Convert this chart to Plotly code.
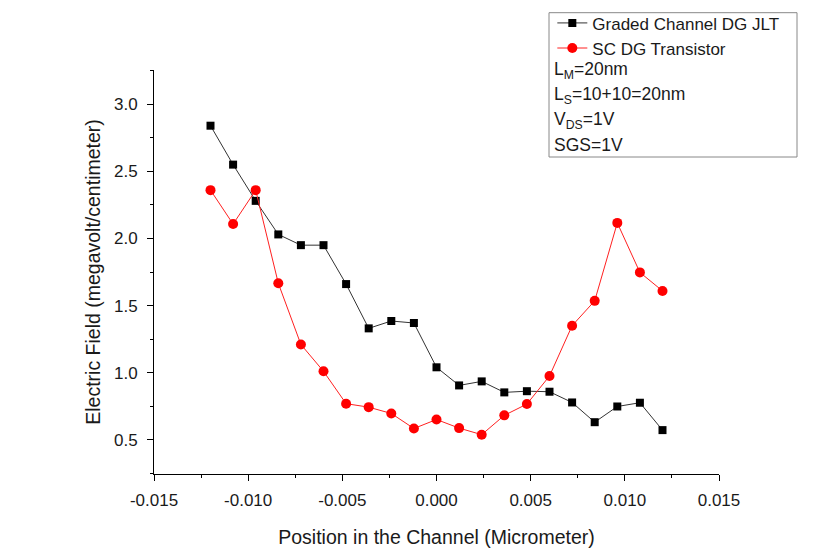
import plotly.graph_objects as go

# ---- data ----
position = [-0.012, -0.0108, -0.0096, -0.0084, -0.0072, -0.006, -0.0048, -0.0036, -0.0024,
            -0.0012, 0.0, 0.0012, 0.0024, 0.0036, 0.0048, 0.006, 0.0072, 0.0084, 0.0096,
            0.0108, 0.012]
graded_jlt = [2.84, 2.55, 2.28, 2.03, 1.95, 1.95, 1.66, 1.33, 1.385, 1.37, 1.04, 0.905,
              0.935, 0.853, 0.862, 0.858, 0.778, 0.631, 0.748, 0.776, 0.572]
sc_dg = [2.36, 2.107, 2.36, 1.666, 1.21, 1.01, 0.769, 0.743, 0.696, 0.584, 0.651, 0.587,
         0.538, 0.682, 0.766, 0.975, 1.35, 1.535, 2.116, 1.747, 1.609]

x_tickvals = [-0.015, -0.010, -0.005, 0.0, 0.005, 0.010, 0.015]
x_ticktext = ["-0.015", "-0.010", "-0.005", "0.000", "0.005", "0.010", "0.015"]
y_tickvals = [0.5, 1.0, 1.5, 2.0, 2.5, 3.0]
y_ticktext = ["0.5", "1.0", "1.5", "2.0", "2.5", "3.0"]

series_names = ["Graded Channel DG JLT", "SC DG Transistor"]
info_lines = ["L<sub>M</sub>=20nm", "L<sub>S</sub>=10+10=20nm", "V<sub>DS</sub>=1V", "SGS=1V"]

FONT = "Liberation Sans, Arial, sans-serif"
TXT = "#1a1a1a"

fig = go.Figure()
fig.add_trace(go.Scatter(
    x=position, y=graded_jlt, name=series_names[0], mode="lines+markers",
    line=dict(color="#333333", width=1),
    marker=dict(symbol="square", size=8, color="black"),
))
fig.add_trace(go.Scatter(
    x=position, y=sc_dg, name=series_names[1], mode="lines+markers",
    line=dict(color="#ff2020", width=1),
    marker=dict(symbol="circle", size=10, color="#ff0000"),
))

axis_common = dict(
    showline=True, linecolor="black", linewidth=1, mirror=False,
    ticks="outside", ticklen=6, tickwidth=1, tickcolor="black",
    showgrid=False, zeroline=False,
    tickfont=dict(family=FONT, size=17, color=TXT),
)

fig.update_layout(
    width=814, height=557, autosize=False,
    margin=dict(l=154, r=95, t=70, b=83, autoexpand=False),
    paper_bgcolor="white", plot_bgcolor="white",
    font=dict(family=FONT, color=TXT, size=17),
    xaxis=dict(
        range=[-0.015, 0.015], tickmode="array", tickvals=x_tickvals, ticktext=x_ticktext,
        minor=dict(dtick=0.0025, tick0=-0.015, ticks="outside", ticklen=3, tickcolor="black"),
        title=dict(text="Position in the Channel (Micrometer)",
                   font=dict(family=FONT, size=19.5, color=TXT), standoff=20),
        ticklabelstandoff=5,
        **axis_common,
    ),
    yaxis=dict(
        range=[0.245, 3.255], tickmode="array", tickvals=y_tickvals, ticktext=y_ticktext,
        minor=dict(dtick=0.25, tick0=0.25, ticks="outside", ticklen=3, tickcolor="black"),
        title=dict(text="Electric Field (megavolt/centimeter)",
                   font=dict(family=FONT, size=19.5, color=TXT), standoff=8),
        ticklabelstandoff=6,
        **axis_common,
    ),
    legend=dict(
        x=0.705, y=1.160, xanchor="left", yanchor="top",
        bgcolor="rgba(0,0,0,0)", borderwidth=0,
        font=dict(family=FONT, size=17, color=TXT),
        tracegroupgap=0, itemwidth=30,
    ),
    showlegend=True,
)

# legend box
fig.add_shape(type="rect", xref="paper", yref="paper",
              x0=(549 - 154) / 565, x1=(797 - 154) / 565,
              y0=(474 - 157) / 404, y1=(474 - 12.7) / 404,
              line=dict(color="#888888", width=1), fillcolor="rgba(0,0,0,0)")

info_y = [70, 95, 120, 145]
for txt, yy in zip(info_lines, info_y):
    fig.add_annotation(text=txt, xref="paper", yref="paper",
                       x=(552 - 154) / 565, y=(474 - yy) / 404,
                       xanchor="left", yanchor="middle", showarrow=False,
                       font=dict(family=FONT, size=17.5, color=TXT))

fig.write_html("out.html")
